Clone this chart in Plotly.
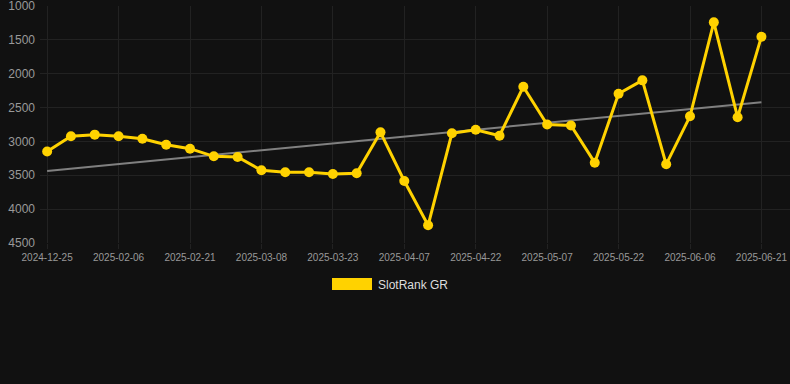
import datetime as dt
import numpy as np
import plotly.graph_objects as go

# ---- data ----
dates = ["2024-12-25"] + [
    (dt.date(2025, 1, 27) + dt.timedelta(days=5 * i)).isoformat() for i in range(30)
]
ranks = [3150, 2924, 2900, 2924, 2960, 3048, 3107, 3220, 3230, 3427,
         3456, 3456, 3481, 3471, 2866, 3585, 4239, 2880, 2827, 2915,
         2192, 2750, 2765, 3314, 2295, 2098, 3338, 2629, 1241, 2644, 1453]
series_name = "SlotRank GR"
y_ticks = [1000, 1500, 2000, 2500, 3000, 3500, 4000, 4500]
x_ticks = dates[::3]

# trend (least squares over point index)
idx = np.arange(len(ranks))
slope, intercept = np.polyfit(idx, ranks, 1)
trend = list(intercept + slope * idx)

YELLOW = "#ffd200"
BG = "#111111"
GRID = "#222222"
FONT = "Arial, Liberation Sans, sans-serif"

fig = go.Figure()
fig.add_trace(go.Scatter(
    x=[dates[0], dates[-1]], y=[trend[0], trend[-1]], mode="lines",
    line=dict(color="#808080", width=2), showlegend=False, hoverinfo="skip"))
fig.add_trace(go.Scatter(
    x=dates, y=ranks, mode="lines+markers", name=series_name,
    line=dict(color=YELLOW, width=3), marker=dict(color=YELLOW, size=10),
    showlegend=False))

L, R, T, B = 40, 0, 6, 141
W, H = 790, 384
pw, ph = W - L - R, H - T - B

def px(xp):
    return (xp - L) / pw

def py(yp):
    return (H - B - yp) / ph

fig.add_shape(type="rect", xref="paper", yref="paper",
              x0=px(332), x1=px(372), y0=py(290), y1=py(278),
              fillcolor=YELLOW, line=dict(width=0))
fig.add_annotation(xref="paper", yref="paper", x=px(376), y=py(284.5),
                   xanchor="left", yanchor="middle", showarrow=False,
                   text=series_name, font=dict(family=FONT, size=12, color="#dddddd"))

fig.update_layout(
    width=W, height=H, margin=dict(l=L, r=R, t=T, b=B),
    paper_bgcolor=BG, plot_bgcolor=BG, showlegend=False,
    font=dict(family=FONT, color="#999999"),
    xaxis=dict(type="category", categoryorder="array", categoryarray=dates,
               range=[-0.3, 31.2], tickmode="array", tickvals=x_ticks,
               ticktext=x_ticks, showgrid=True, gridcolor=GRID, gridwidth=1,
               ticks="outside", ticklen=5, tickcolor=GRID,
               tickfont=dict(size=10, color="#999999"), zeroline=False,
               showline=False, ticklabeloverflow="allow"),
    yaxis=dict(range=[4500.5, 999.5], tickmode="array", tickvals=y_ticks,
               showgrid=True, gridcolor=GRID, gridwidth=1, zeroline=False,
               tickfont=dict(size=12, color="#999999"), ticks="",
               ticklabelstandoff=4, showline=False, ticklabeloverflow="allow"),
)

fig.write_html("out.html")
